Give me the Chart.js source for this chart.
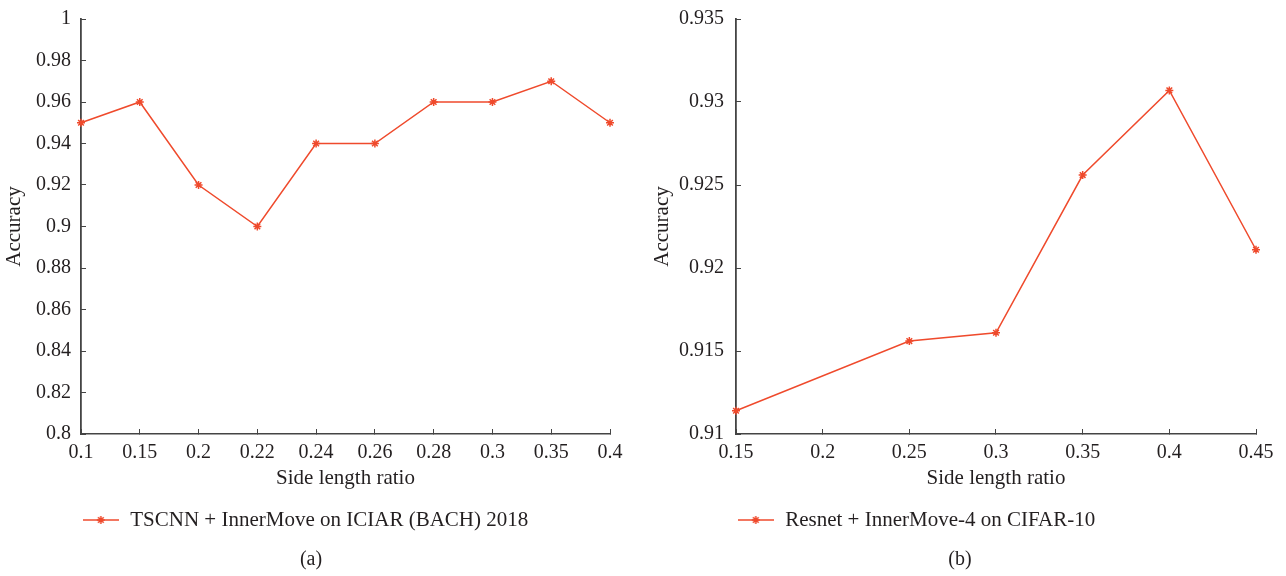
<!DOCTYPE html>
<html><head><meta charset="utf-8">
<script src="https://cdn.jsdelivr.net/npm/chart.js@4.4.1/dist/chart.umd.min.js"></script>
<style>
html,body{margin:0;padding:0;background:#fff;width:1286px;height:576px;overflow:hidden;position:relative}
canvas{position:absolute;top:0}
#cA{left:0}
#cB{left:576px}
.cap{position:absolute;font:20px "Liberation Serif","Times New Roman",serif;color:#231f20;transform:translate(-50%,-50%);white-space:nowrap}
</style></head><body>
<canvas id="cA" width="643" height="576"></canvas>
<canvas id="cB" width="710" height="576"></canvas>
<div class="cap" style="left:311px;top:558px">(a)</div>
<div class="cap" style="left:960px;top:558px">(b)</div>
<script>
// ---- data: panel (a)
const ratioLabelsA = ['0.1','0.15','0.2','0.22','0.24','0.26','0.28','0.3','0.35','0.4'];
const accuracyA = [0.95,0.96,0.92,0.90,0.94,0.94,0.96,0.96,0.97,0.95];
const yTicksA = [0.8,0.82,0.84,0.86,0.88,0.9,0.92,0.94,0.96,0.98,1];
const seriesNameA = 'TSCNN + InnerMove on ICIAR (BACH) 2018';
// ---- data: panel (b)
const ratiosB = [0.15,0.25,0.3,0.35,0.4,0.45];
const accuracyB = [0.9114,0.9156,0.9161,0.9256,0.9307,0.9211];
const xTicksB = [0.15,0.2,0.25,0.3,0.35,0.4,0.45];
const yTicksB = [0.91,0.915,0.92,0.925,0.93,0.935];
const seriesNameB = 'Resnet + InnerMove-4 on CIFAR-10';
const xTitle = 'Side length ratio';
const yTitle = 'Accuracy';

const FONT = '"Liberation Serif","Times New Roman",serif';
const TXT = '#231f20';
const AXIS = '#444444';
const RED = '#ef4a2c';

function legendIcon(){
  const c = document.createElement('canvas');
  c.width = 36; c.height = 12;
  const g = c.getContext('2d');
  g.strokeStyle = RED; g.lineWidth = 1.5;
  g.beginPath(); g.moveTo(0,6); g.lineTo(36,6); g.stroke();
  if (Chart.helpers && Chart.helpers.drawPoint) {
    Chart.helpers.drawPoint(g, {pointStyle:'star', rotation:0, radius:4, borderWidth:1.5}, 18, 6);
  } else {
    g.beginPath();
    for (let k=0;k<4;k++){const a=k*Math.PI/4;g.moveTo(18-4*Math.cos(a),6-4*Math.sin(a));g.lineTo(18+4*Math.cos(a),6+4*Math.sin(a));}
    g.stroke();
  }
  return c;
}
const icon = legendIcon();

function build(cfg){
  const xScale = {
    type: cfg.xType,
    offset: false,
    border: {display:true, color: AXIS, width: 1.5},
    grid: {display:true, drawOnChartArea:false, drawTicks:true, tickLength:-5, color: AXIS, lineWidth:1},
    ticks: {color: TXT, font:{family:FONT, size:20}, padding:12, maxRotation:0, autoSkip:false},
    title: {display:true, text:xTitle, color:TXT, font:{family:FONT, size:21}, padding:{top:0,bottom:8}},
    afterFit: s => { s.height = 65.5; }
  };
  if (cfg.xType === 'linear') {
    xScale.min = cfg.xTicks[0];
    xScale.max = cfg.xTicks[cfg.xTicks.length-1];
    xScale.afterBuildTicks = s => { s.ticks = cfg.xTicks.map(v => ({value:v})); };
    xScale.ticks.callback = v => String(v);
  }
  return new Chart(document.getElementById(cfg.id), {
    type: 'line',
    data: {
      labels: cfg.labels,
      datasets: [{
        label: cfg.name,
        data: cfg.data,
        borderColor: RED, backgroundColor: RED, borderWidth: 1.5,
        pointStyle: 'star', pointRadius: 4, pointHoverRadius: 4,
        pointBorderColor: RED, pointBackgroundColor: RED, pointBorderWidth: 1.5,
        tension: 0, fill: false, clip: false
      }]
    },
    options: {
      responsive: false, animation: false, devicePixelRatio: 1,
      layout: {padding: {left: cfg.padL, right: cfg.padR, top: 19, bottom: 35.5}},
      scales: {
        x: xScale,
        y: {
          type: 'linear', min: cfg.yTicks[0], max: cfg.yTicks[cfg.yTicks.length-1],
          afterBuildTicks: s => { s.ticks = cfg.yTicks.map(v => ({value:v})); },
          afterFit: s => { s.width = cfg.yW; s.paddingTop = 0; s.paddingBottom = 0; },
          border: {display:true, color: AXIS, width: 1.8},
          grid: {display:true, drawOnChartArea:false, drawTicks:true, tickLength:-5, color: AXIS, lineWidth:1},
          ticks: {color: TXT, font:{family:FONT, size:20}, padding: cfg.yPad, callback: v => String(v)},
          title: {display:true, text:yTitle, color:TXT, font:{family:FONT, size:21}, padding:{top: cfg.yTitlePad, bottom:0}}
        }
      },
      plugins: {
        legend: {
          display: true, position: 'bottom', align: 'center',
          labels: {usePointStyle: true, pointStyle: icon, pointStyleWidth: 38, color: TXT, font:{family:FONT, size:21}, padding: 10}
        },
        title: {display:false},
        tooltip: {enabled:false}
      }
    }
  });
}

build({id:'cA', xType:'category', labels: ratioLabelsA, data: accuracyA, yTicks: yTicksA, name: seriesNameA,
  padL: 0, padR: 33, yW: 81, yPad: 15, yTitlePad: 1.4});
build({id:'cB', xType:'linear', xTicks: xTicksB, data: ratiosB.map((x,i)=>({x:x, y:accuracyB[i]})), yTicks: yTicksB, name: seriesNameB,
  padL: 0, padR: 30, yW: 160, yPad: 17, yTitlePad: 73.4});
</script>
</body></html>
